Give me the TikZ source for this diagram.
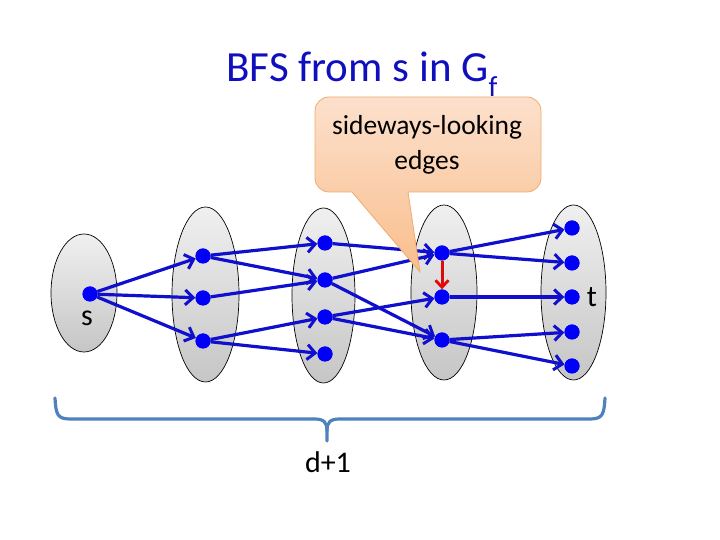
\documentclass[tikz,border=0pt]{standalone}
\usepackage{fontspec}
\setmainfont{Carlito}
\usetikzlibrary{arrows.meta}
\definecolor{titleblue}{RGB}{15,15,190}
\definecolor{edgeblue}{RGB}{15,15,205}
\definecolor{dotblue}{RGB}{0,0,250}
\definecolor{sidered}{RGB}{225,10,10}
\definecolor{bracecol}{RGB}{79,129,189}
\definecolor{calltop}{RGB}{252,224,204}
\definecolor{callbot}{RGB}{249,190,140}
\definecolor{callline}{RGB}{240,170,110}
\tikzset{
  layer/.style={draw=black, line width=0.7pt, top color=gray!12, bottom color=gray!45},
  dot/.style={circle, fill=dotblue, inner sep=0pt, minimum size=15pt},
  fwd/.style={draw=edgeblue, line width=3.2pt, -{Straight Barb[length=8pt,width=15pt,line width=3pt]}},
  side/.style={draw=sidered, line width=3pt, -{Straight Barb[length=7pt,width=13pt,line width=2.8pt]}},
  bracestyle/.style={draw=bracecol, line width=3.2pt, line cap=round, line join=round},
  lbl/.style={font=\fontsize{30}{32}\selectfont, inner sep=0pt, anchor=base}
}
\begin{document}
\begin{tikzpicture}[x=1pt,y=1pt]
\useasboundingbox (0,0) rectangle (720,540);
% title
\node[anchor=base, inner sep=0pt, text=titleblue, font=\fontsize{43}{46}\selectfont] (title) at (362,458)
  {BFS from s in G\raisebox{-15pt}{\fontsize{29}{29}\selectfont f}};
% layers
\path[layer] (84,247) ellipse [x radius=33, y radius=59];
\path[layer] (205.5,245.5) ellipse [x radius=33.5, y radius=87.5];
\path[layer] (323.5,244.5) ellipse [x radius=31.5, y radius=87.5];
\path[layer] (444,247.5) ellipse [x radius=33, y radius=87.5];
\path[layer] (573.5,247.5) ellipse [x radius=32.5, y radius=87.5];
% vertices
\node[dot] (s) at (90,246) {};
\node[dot] (a1) at (203,284) {};
\node[dot] (a2) at (203,242) {};
\node[dot] (a3) at (203,199) {};
\node[dot] (b1) at (325,297) {};
\node[dot] (b2) at (325,260) {};
\node[dot] (b3) at (325,223) {};
\node[dot] (b4) at (325,186) {};
\node[dot] (c1) at (442,287) {};
\node[dot] (c2) at (442,243) {};
\node[dot] (c3) at (442,200) {};
\node[dot] (d1) at (572,312) {};
\node[dot] (d2) at (572,277) {};
\node[dot] (d3) at (572,243) {};
\node[dot] (d4) at (572,208) {};
\node[dot] (d5) at (572,174) {};
% edges
\draw[fwd] (s) -- (a1);
\draw[fwd] (s) -- (a2);
\draw[fwd] (s) -- (a3);
\draw[fwd] (a1) -- (b1);
\draw[fwd] (a1) -- (b2);
\draw[fwd] (a2) -- (b2);
\draw[fwd] (a3) -- (b3);
\draw[fwd] (a3) -- (b4);
\draw[fwd] (b1) -- (c1);
\draw[fwd] (b2) -- (c1);
\draw[fwd] (b2) -- (c3);
\draw[fwd] (b3) -- (c2);
\draw[fwd] (b3) -- (c3);
\draw[fwd] (c1) -- (d1);
\draw[fwd] (c1) -- (d2);
\draw[fwd] (c2) -- (d3);
\draw[fwd] (c3) -- (d4);
\draw[fwd] (c3) -- (d5);
\draw[side] (c1) -- (c2);
% redraw dots on top
\foreach \n in {s,a1,a2,a3,b1,b2,b3,b4,c1,c2,c3,d1,d2,d3,d4,d5}
  \fill[dotblue] (\n.center) circle (7.5pt);
% labels
\node[lbl] (slabel) at (87,214) {s};
\node[lbl] (tlabel) at (592,233) {t};
% callout
\draw[draw=callline, line width=0.8pt, top color=calltop, bottom color=callbot]
  (329,443) -- (527,443) arc[start angle=90,end angle=0,radius=14]
  -- (541,362) arc[start angle=0,end angle=-90,radius=14]
  -- (408,348) -- (420,268) -- (352,348) -- (329,348)
  arc[start angle=270,end angle=180,radius=14]
  -- (315,429) arc[start angle=180,end angle=90,radius=14] -- cycle;
\node[anchor=base, inner sep=0pt, font=\fontsize{27.5}{30}\selectfont] (call1) at (427,405) {sideways-looking};
\node[anchor=base, inner sep=0pt, font=\fontsize{27.5}{30}\selectfont] (call2) at (427,370) {edges};
% brace
\draw[bracestyle] (55,142) .. controls (56,126) and (57,121) .. (70,121) -- (314,121)
  .. controls (324,121) and (327,118) .. (327,109) -- (327,99);
\draw[bracestyle] (327,109) .. controls (327,118) and (330,121) .. (340,121) -- (590,121)
  .. controls (603,121) and (604,126) .. (605,142);
\node[lbl] (dlabel) at (328,67) {d+1};
\end{tikzpicture}
\end{document}
